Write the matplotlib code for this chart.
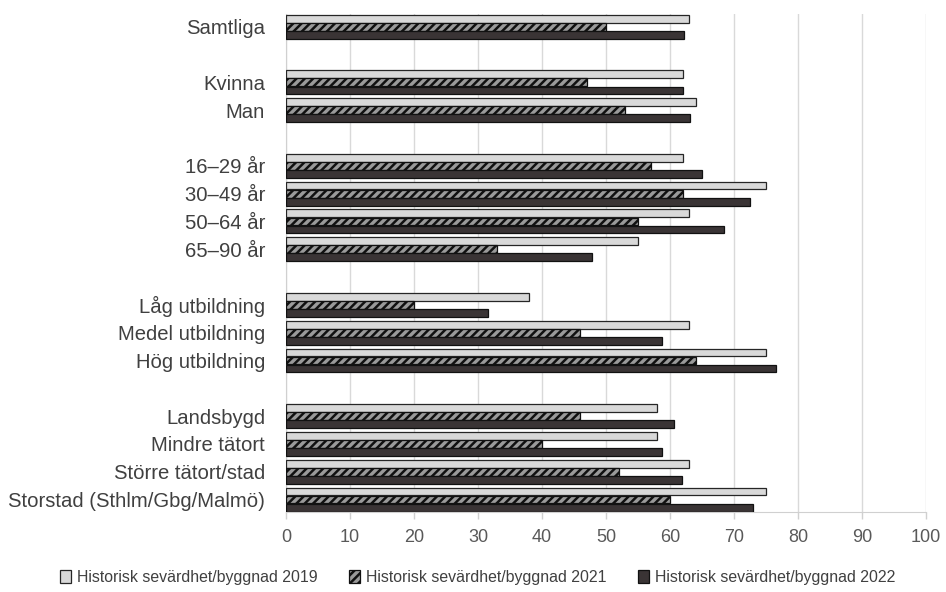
import matplotlib
matplotlib.use("Agg")
import matplotlib.pyplot as plt
import numpy as np

plt.rcParams['font.family'] = ['Liberation Sans', 'DejaVu Sans']
plt.rcParams['hatch.linewidth'] = 1.8

categories = ["Samtliga", "", "Kvinna", "Man", "",
              "16–29 år", "30–49 år", "50–64 år", "65–90 år", "",
              "Låg utbildning", "Medel utbildning", "Hög utbildning", "",
              "Landsbygd", "Mindre tätort", "Större tätort/stad", "Storstad (Sthlm/Gbg/Malmö)"]

v2019 = [63, None, 62, 64, None, 62, 75, 63, 55, None, 38, 63, 75, None, 58, 58, 63, 75]
v2021 = [50, None, 47, 53, None, 57, 62, 55, 33, None, 20, 46, 64, None, 46, 40, 52, 60]
v2022 = [62.2, None, 62.1, 63.1, None, 65.0, 72.5, 68.4, 47.8, None, 31.5, 58.7, 76.6, None, 60.6, 58.7, 61.8, 73.0]

series_labels = ["Historisk sevärdhet/byggnad 2019",
                 "Historisk sevärdhet/byggnad 2021",
                 "Historisk sevärdhet/byggnad 2022"]
xticks = [0, 10, 20, 30, 40, 50, 60, 70, 80, 90, 100]

fig = plt.figure(figsize=(9.46, 5.92), dpi=100)
ax = fig.add_axes([0.3023, 0.135, 0.9789 - 0.3023, 0.976 - 0.135])

idx = np.arange(len(categories))
h = 0.28
off = 0.29

def clean(vals):
    return np.array([np.nan if v is None else v for v in vals], dtype=float)

b1 = ax.barh(idx - off, clean(v2019), height=h, color='#d9d9d9', edgecolor='#262626', linewidth=0.9, label=series_labels[0], zorder=3)
b2 = ax.barh(idx, clean(v2021), height=h, color='#9a9a9a', edgecolor='#111111', linewidth=0.9, hatch='////', label=series_labels[1], zorder=3)
b3 = ax.barh(idx + off, clean(v2022), height=h, color='#3a3435', edgecolor='#111111', linewidth=0.9, label=series_labels[2], zorder=3)

ax.set_ylim(len(categories) - 0.55, -0.45)
ax.set_xlim(0, 100)
ax.set_yticks(idx)
ax.set_yticklabels(categories, fontsize=14.6, color='#404040')
ax.tick_params(axis='y', length=0, pad=15)
ax.set_xticks(xticks)
ax.set_xticklabels([str(t) for t in xticks], fontsize=13, color='#595959')
ax.tick_params(axis='x', length=5, color='#d0d0d0', width=1, pad=7)

ax.grid(axis='x', color='#d9d9d9', linewidth=1, zorder=0)
ax.set_axisbelow(True)
for s in ['top', 'right']:
    ax.spines[s].set_visible(False)
ax.spines['left'].set_color('#d0d0d0')
ax.spines['bottom'].set_color('#d0d0d0')

fig.legend(handles=[b1, b2, b3], labels=series_labels, loc='lower center',
           bbox_to_anchor=(0.505, -0.012), ncol=3, frameon=False, fontsize=11.4,
           handlelength=0.7, handleheight=0.95, handletextpad=0.35, columnspacing=2.0,
           labelcolor='#404040')

fig.savefig("out.png", dpi=100)
